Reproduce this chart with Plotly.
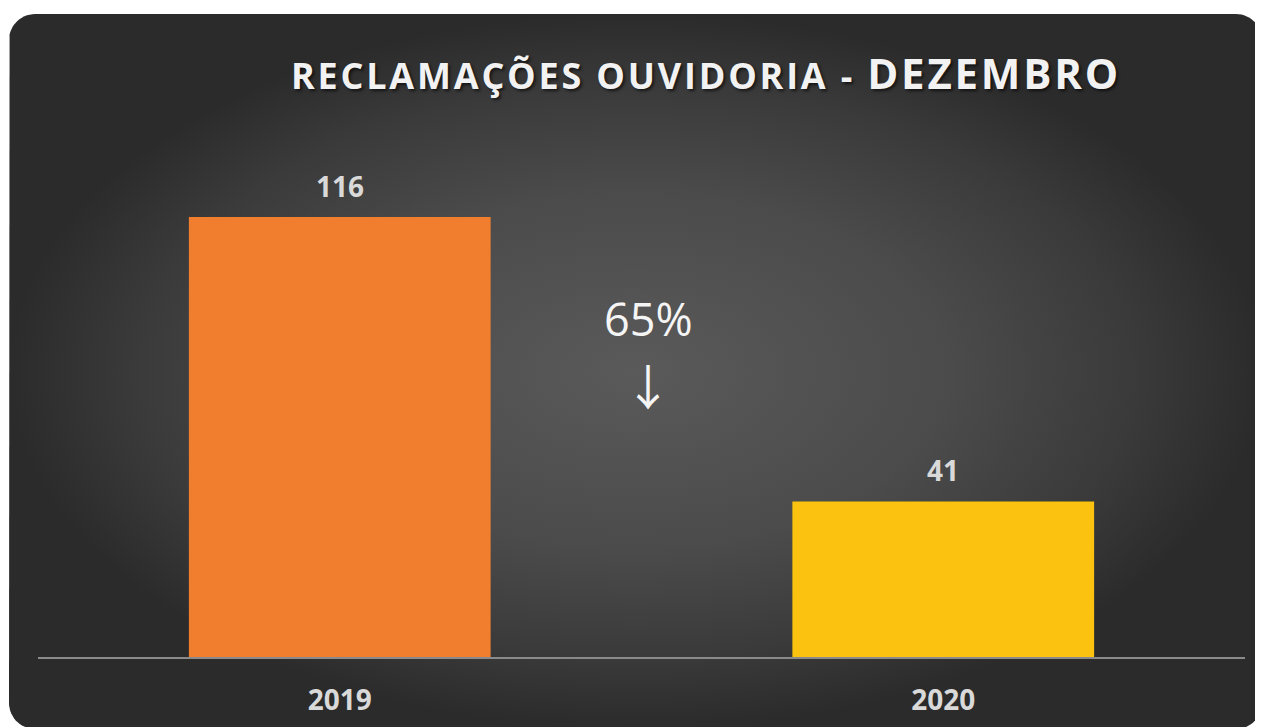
import numpy as np
import plotly.graph_objects as go

# ---- data ----
categories = ["2019", "2020"]
values = [116, 41]
bar_colors = ["#F17E2F", "#FBC310"]
title_main = "RECLAMAÇÕES OUVIDORIA - "
title_month = "DEZEMBRO"
change_label = "65%"
arrow_label = "↓"

# the page draws the figure 8 px in from the top-left corner
OFF = 8
W, H = 1263 - OFF, 727 - OFF

def px(v):
    return v - OFF

# ---- rounded card outline (decoration, pixel space) ----
def rounded_rect(x0, y0, x1, y1, r, n=16):
    xs, ys = [], []
    corners = [
        (x1 - r, y0 + r, -90, 0),
        (x1 - r, y1 - r, 0, 90),
        (x0 + r, y1 - r, 90, 180),
        (x0 + r, y0 + r, 180, 270),
    ]
    for cx, cy, a0, a1 in corners:
        for a in np.linspace(np.radians(a0), np.radians(a1), n):
            xs.append(float(cx + r * np.cos(a)))
            ys.append(float(cy + r * np.sin(a)))
    xs.append(xs[0]); ys.append(ys[0])
    return xs, ys

cx, cy = rounded_rect(px(9), px(14), px(1262), px(729), 26)

fig = go.Figure()

fig.add_trace(go.Scatter(
    x=cx, y=cy, mode="lines", fill="toself",
    line=dict(width=0, color="rgba(0,0,0,0)"),
    fillgradient=dict(type="radial",
                      colorscale=[[0, "#5a5a5a"], [0.5, "#4b4b4b"],
                                  [0.8, "#3a3a3a"], [1, "#2b2b2b"]]),
    hoverinfo="skip", showlegend=False, xaxis="x", yaxis="y",
))

fig.add_trace(go.Bar(
    x=categories, y=values, marker=dict(color=bar_colors, line=dict(width=0)),
    hoverinfo="skip", showlegend=False, xaxis="x2", yaxis="y2",
))

label_font = dict(family="Open Sans", size=28, color="#D9D9D9", weight="bold")

annotations = []
for i, v in enumerate(values):
    annotations.append(dict(
        x=i, y=v, xref="x2", yref="y2", text=str(v), showarrow=False,
        xanchor="center", yanchor="bottom", yshift=10, font=label_font,
    ))

annotations.append(dict(
    x=px(648), y=px(318), xref="x", yref="y", text=change_label, showarrow=False,
    xanchor="center", yanchor="middle",
    font=dict(family="Open Sans", size=45, color="#F5F5F5"),
))
annotations.append(dict(
    x=px(648), y=px(384), xref="x", yref="y", text=arrow_label, showarrow=False,
    xanchor="center", yanchor="middle",
    font=dict(family="Noto Sans CJK JP", size=48, color="#F5F5F5"),
))

title_text = ("<span style='letter-spacing:2.8px'>" + title_main +
              "<span style='font-size:42px'>" + title_month + "</span></span>")

fig.update_layout(
    width=W, height=H, autosize=False,
    margin=dict(l=0, r=0, t=0, b=0, pad=0, autoexpand=False),
    paper_bgcolor="white",
    plot_bgcolor="rgba(0,0,0,0)",
    bargap=0.5,
    title=dict(
        text=title_text,
        x=px(706) / W, y=1 - px(76) / H, xanchor="center", yanchor="middle",
        font=dict(family="Open Sans", size=36, color="#F2F2F2", weight="bold",
                  shadow="2px 2px 3px rgba(0,0,0,0.6)"),
    ),
    xaxis=dict(domain=[0, 1], range=[0, W], visible=False, fixedrange=True,
               automargin=False),
    yaxis=dict(domain=[0, 1], range=[H, 0], visible=False, fixedrange=True,
               automargin=False),
    xaxis2=dict(
        domain=[px(38) / W, px(1245) / W], anchor="y2", type="category",
        range=[-0.5, 1.5], automargin=False,
        showline=True, linecolor="#8A8A8A", linewidth=2,
        ticks="", showgrid=False, zeroline=False,
        tickfont=label_font, ticklabelstandoff=17,
    ),
    yaxis2=dict(
        domain=[(H - px(657)) / H, (H - px(126)) / H], anchor="x2",
        range=[0, 140], automargin=False,
        visible=False, showgrid=False, zeroline=False,
    ),
    annotations=annotations,
)

fig.write_html("out.html")
